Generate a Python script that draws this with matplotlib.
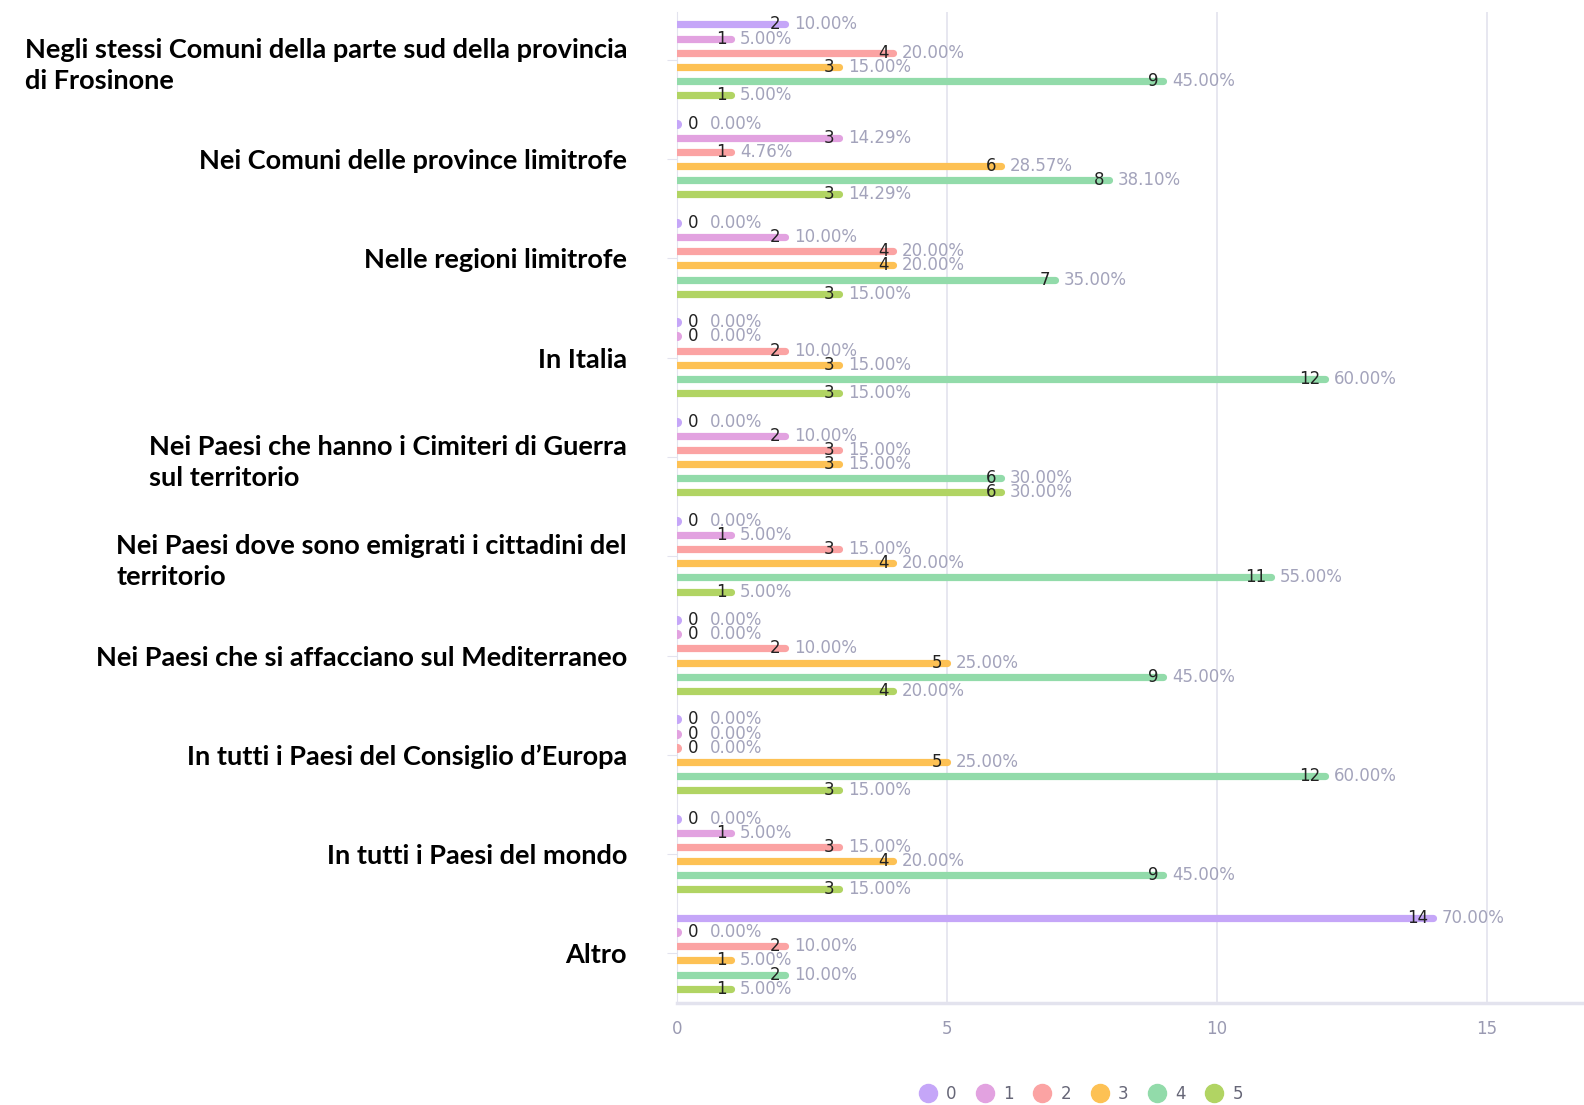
import numpy as np
import matplotlib
matplotlib.use("Agg")
from matplotlib import pyplot as plt
from matplotlib.lines import Line2D

categories = [
    "Negli stessi Comuni della parte sud della provincia\ndi Frosinone",
    "Nei Comuni delle province limitrofe",
    "Nelle regioni limitrofe",
    "In Italia",
    "Nei Paesi che hanno i Cimiteri di Guerra\nsul territorio",
    "Nei Paesi dove sono emigrati i cittadini del\nterritorio",
    "Nei Paesi che si affacciano sul Mediterraneo",
    "In tutti i Paesi del Consiglio d\u2019Europa",
    "In tutti i Paesi del mondo",
    "Altro",
]
series = ["0", "1", "2", "3", "4", "5"]

# counts per series, one value per category
s0 = [2, 0, 0, 0, 0, 0, 0, 0, 0, 14]
s1 = [1, 3, 2, 0, 2, 1, 0, 0, 1, 0]
s2 = [4, 1, 4, 2, 3, 3, 2, 0, 3, 2]
s3 = [3, 6, 4, 3, 3, 4, 5, 5, 4, 1]
s4 = [9, 8, 7, 12, 6, 11, 9, 12, 9, 2]
s5 = [1, 3, 3, 3, 6, 1, 4, 3, 3, 1]

p0 = ["10.00%", "0.00%", "0.00%", "0.00%", "0.00%", "0.00%", "0.00%", "0.00%", "0.00%", "70.00%"]
p1 = ["5.00%", "14.29%", "10.00%", "0.00%", "10.00%", "5.00%", "0.00%", "0.00%", "5.00%", "0.00%"]
p2 = ["20.00%", "4.76%", "20.00%", "10.00%", "15.00%", "15.00%", "10.00%", "0.00%", "15.00%", "10.00%"]
p3 = ["15.00%", "28.57%", "20.00%", "15.00%", "15.00%", "20.00%", "25.00%", "25.00%", "20.00%", "5.00%"]
p4 = ["45.00%", "38.10%", "35.00%", "60.00%", "30.00%", "55.00%", "45.00%", "60.00%", "45.00%", "10.00%"]
p5 = ["5.00%", "14.29%", "15.00%", "15.00%", "30.00%", "5.00%", "20.00%", "15.00%", "15.00%", "5.00%"]

counts = [s0, s1, s2, s3, s4, s5]
pcts = [p0, p1, p2, p3, p4, p5]
colors = ["#c5a6f8", "#e2a2e0", "#fba3a3", "#fdc154", "#92dbaa", "#b1d463"]

fig = plt.figure(figsize=(15.84, 11.05), dpi=100)
ax = fig.add_axes([0.4274, 0.0923, 0.5726, 0.8967])

step = 0.1425
for j in range(len(series)):
    for i in range(len(categories)):
        v = counts[j][i]
        y = i + (j - 2.5) * step
        if v == 0:
            # zero bars show only as a small dot on the axis
            ax.plot([0], [y], marker="o", markersize=5.5, color=colors[j], zorder=3)
            ax.text(0.2, y, "0", ha="left", va="center", fontsize=12, color="#222222", zorder=4)
            ax.text(0.6, y, pcts[j][i], ha="left", va="center", fontsize=12, color="#a3a3bb", zorder=4)
        else:
            ax.plot([0, v], [y, y], color=colors[j], lw=5.2, solid_capstyle="round", zorder=3)
            ax.text(v - 0.08, y, str(v), ha="right", va="center", fontsize=12, color="#222222", zorder=4)
            ax.text(v + 0.17, y, pcts[j][i], ha="left", va="center", fontsize=12, color="#a3a3bb", zorder=4)

ax.set_xlim(0, 16.8)
ax.set_ylim(9.5, -0.48)
ax.set_xticks([0, 5, 10, 15])
ax.set_yticks(np.arange(len(categories)))
ax.set_yticklabels(categories, fontsize=19.5, fontweight="bold", family=["Lato", "DejaVu Sans"],
                   multialignment="left", linespacing=1.35)
ax.tick_params(axis="y", length=7, color="#e3e3ee", pad=29)
ax.tick_params(axis="x", length=0, colors="#9a9ab2", labelsize=12, pad=12)
ax.grid(axis="x", color="#e3e3ee", lw=1.2)
ax.set_axisbelow(True)
for s in ["top", "right"]:
    ax.spines[s].set_visible(False)
ax.spines["left"].set_color("#e3e3ee")
ax.spines["bottom"].set_color("#e3e3ee")
ax.spines["bottom"].set_linewidth(2.5)

handles = [Line2D([], [], marker="o", ls="", markersize=13, color=c) for c in colors]
fig.legend(handles, series, loc="center", bbox_to_anchor=(0.68, 0.01), ncol=6, frameon=False,
           fontsize=12, labelcolor="#666677", handletextpad=0.1, columnspacing=0.7)

fig.savefig("out.png", dpi=100)
